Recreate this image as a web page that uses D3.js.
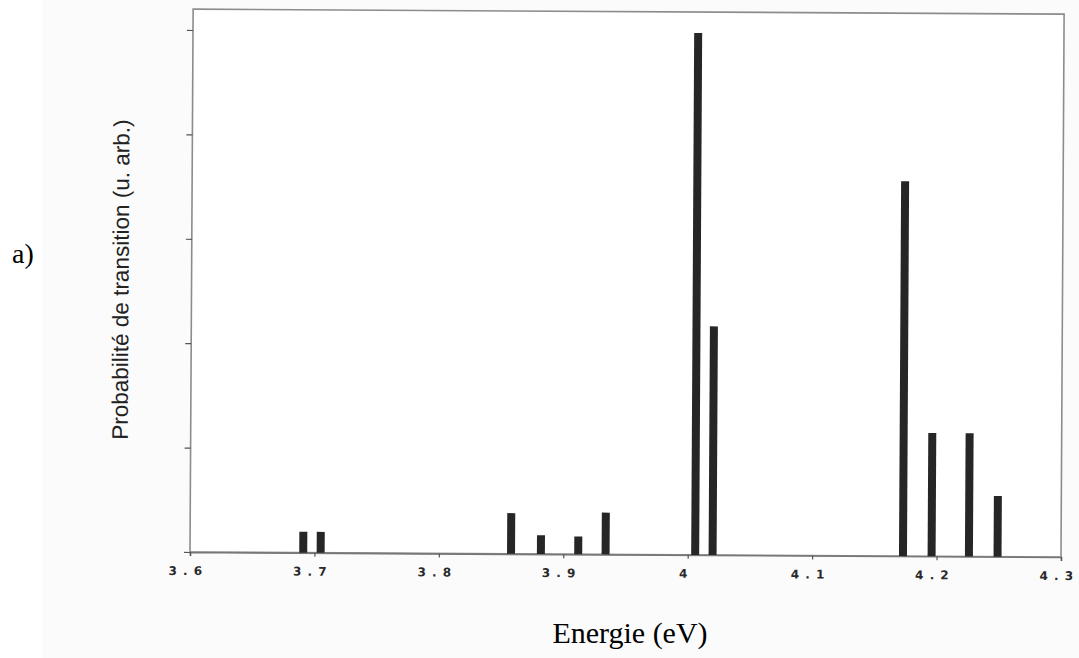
<!DOCTYPE html>
<html>
<head>
<meta charset="utf-8">
<script src="https://cdn.jsdelivr.net/npm/d3@7"></script>
<style>
  body { margin: 0; background: #fff; }
  svg { display: block; }
</style>
</head>
<body>
<script>
// transition energies (eV) and probabilities (arb. units)
var energies = [3.691, 3.705, 3.858, 3.882, 3.912, 3.934, 4.006, 4.020, 4.173, 4.196, 4.226, 4.249];
var probs    = [0.20, 0.20, 0.39, 0.18, 0.17, 0.40, 5.0, 2.19, 3.59, 1.18, 1.18, 0.58];
var xTicks = [3.6, 3.7, 3.8, 3.9, 4.0, 4.1, 4.2, 4.3];
var xTickLabels = ["3 . 6", "3 . 7", "3 . 8", "3 . 9", "4", "4 . 1", "4 . 2", "4 . 3"];
var yTicks = [0, 1, 2, 3, 4, 5];

var width = 1079, height = 658;
var left = 190, bottom = 552, right = 1061;

var svg = d3.select("body").append("svg")
    .attr("width", width)
    .attr("height", height);

// faint scan background
svg.append("rect")
    .attr("x", 42).attr("y", 0)
    .attr("width", width - 42).attr("height", height)
    .attr("fill", "#fbfbfb");

var x = d3.scaleLinear().domain([3.6, 4.3]).range([left, right]);
var y = d3.scaleLinear().domain([0, 5]).range([bottom, 30]);
var yTop = y(5.2);

// scanned figure is slightly tilted
var g = svg.append("g")
    .attr("transform", "rotate(0.33," + left + "," + bottom + ")");

g.append("rect")
    .attr("x", left).attr("y", yTop)
    .attr("width", right - left).attr("height", bottom - yTop)
    .attr("fill", "#fff")
    .attr("stroke", "#8c8c8c")
    .attr("stroke-width", 1.6);

var xAxis = g.append("g")
    .attr("transform", "translate(0," + bottom + ")")
    .call(d3.axisBottom(x).tickValues(xTicks).tickSize(4).tickFormat(""));
xAxis.select(".domain").attr("stroke", "#777").attr("stroke-width", 1.6);
xAxis.selectAll(".tick line").attr("stroke", "#555").attr("stroke-width", 1.2);

g.selectAll("text.xlab")
  .data(xTicks)
  .join("text")
    .attr("class", "xlab")
    .attr("x", d => x(d) - 4)
    .attr("y", bottom + 23)
    .attr("text-anchor", "middle")
    .attr("font-family", "DejaVu Sans, sans-serif")
    .attr("font-weight", "bold")
    .attr("font-size", 12)
    .attr("letter-spacing", 1)
    .attr("fill", "#2a2a2a")
    .text((d, i) => xTickLabels[i]);

var yAxis = g.append("g")
    .attr("transform", "translate(" + left + ",0)")
    .call(d3.axisLeft(y).tickValues(yTicks).tickSize(6).tickFormat(""));
yAxis.select(".domain").remove();
yAxis.selectAll(".tick line").attr("stroke", "#555").attr("stroke-width", 1.2);

g.selectAll("rect.bar")
  .data(energies)
  .join("rect")
    .attr("class", "bar")
    .attr("x", d => x(d) - 4)
    .attr("width", 8)
    .attr("y", (d, i) => y(probs[i]))
    .attr("height", (d, i) => y(0) - y(probs[i]))
    .attr("fill", "#262626");

g.append("text")
    .attr("transform", "translate(127,280) rotate(-90)")
    .attr("text-anchor", "middle")
    .attr("font-family", "Liberation Sans, Arial, sans-serif")
    .attr("font-size", 22.5)
    .attr("fill", "#222")
    .text("Probabilité de transition (u. arb.)");

svg.append("text")
    .attr("x", 12).attr("y", 263)
    .attr("font-family", "Liberation Serif, Times New Roman, serif")
    .attr("font-size", 28)
    .attr("fill", "#000")
    .text("a)");

svg.append("text")
    .attr("x", 630).attr("y", 643)
    .attr("text-anchor", "middle")
    .attr("font-family", "Liberation Serif, Times New Roman, serif")
    .attr("font-size", 30)
    .attr("fill", "#000")
    .text("Energie (eV)");
</script>
</body>
</html>
